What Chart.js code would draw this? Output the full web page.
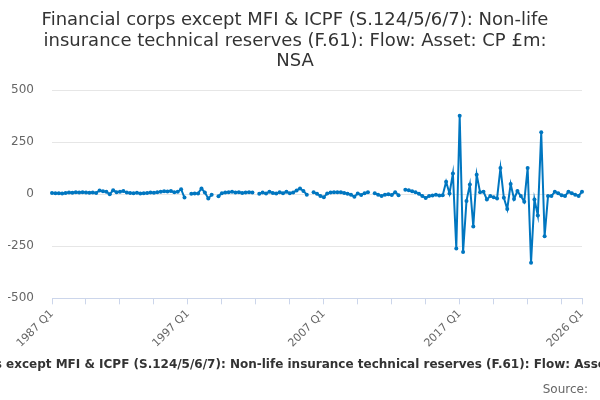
<!DOCTYPE html>
<html>
<head>
<meta charset="utf-8">
<script src="https://cdn.jsdelivr.net/npm/chart.js@4.4.1/dist/chart.umd.min.js"></script>
<style>
  html, body { margin: 0; padding: 0; background: #fff; }
  #wrap { width: 600px; height: 400px; position: relative; }
</style>
</head>
<body>
<div id="wrap"><canvas id="chart"></canvas></div>
<script>
// Titolo e testi
const titleLines = [
  'Financial corps except MFI & ICPF (S.124/5/6/7): Non-life',
  'insurance technical reserves (F.61): Flow: Asset: CP £m:',
  'NSA'
];
const seriesName = 'Financial corps except MFI & ICPF (S.124/5/6/7): Non-life insurance technical reserves (F.61): Flow: Asset: CP £m: NSA';
const sourceText = 'Source:';

// Categorie: trimestri dal 1987 Q1 al 2026 Q1
const firstYear = 1987;
const lastYear = 2026;
const quarters = [];
for (let y = firstYear; y <= lastYear; y++) {
  for (let q = 1; q <= 4; q++) {
    if (y === lastYear && q > 1) break;
    quarters.push(y + ' Q' + q);
  }
}

// Etichette mostrate sull'asse x
const shownLabels = ['1987 Q1', '1997 Q1', '2007 Q1', '2017 Q1', '2026 Q1'];

// Valori (£m), null = dato mancante
const values = [
  6, 5, 5, 4, 6, 8, 7, 9, 8, 10,
  8, 7, 8, 6, 18, 14, 12, 0, 19, 10,
  12, 15, 8, 6, 5, 7, 4, 5, 6, 8,
  7, 9, 12, 14, 13, 15, 10, 12, 24, -16,
  null, 2, 3, 4, 28, 8, -20, -3, null, -10,
  5, 8, 10, 12, 8, 10, 6, 8, 10, 8,
  null, 2, 8, 3, 12, 6, 3, 10, 5, 12,
  5, 8, 18, 28, 15, -2, null, 10, 2, -8,
  -14, 3, 8, 10, 9, 10, 6, 2, -2, -12,
  4, -4, 5, 10, null, 5, -3, -8, -2, 0,
  -4, 10, -5, null, 22, 19, 14, 10, 2, -8,
  -18, -8, -6, -3, -6, -5, 60, 4, 99, -261,
  377, -277, -32, 47, -155, 94, 9, 12, -25, -9,
  -15, -20, 126, -17, -71, 49, -23, 15, -9, -36,
  126, -329, -25, -102, 297, -202, -9, -9, 12, 5,
  -5, -9, 12, 5, -3, -8, 12
];

// Asse y
const yMin = -500;
const yMax = 500;
const yStep = 250;

const lineColor = '#0076c0';
const fontFamily = "'DejaVu Sans', sans-serif";

// Plugin per il nome della serie (tagliato ai bordi come nell'originale) e "Source:"
const footerPlugin = {
  id: 'footerText',
  afterDraw(chart) {
    const c = chart.ctx;
    c.save();
    c.fillStyle = '#333';
    c.font = 'bold 12px ' + fontFamily;
    c.textAlign = 'center';
    c.textBaseline = 'middle';
    c.fillText(seriesName, chart.width / 2, 365);
    c.font = '12px ' + fontFamily;
    c.fillStyle = '#666';
    c.textAlign = 'right';
    c.fillText(sourceText, 588, 390);
    c.restore();
  }
};

const ctx = document.getElementById('chart').getContext('2d');
new Chart(ctx, {
  type: 'line',
  data: {
    labels: quarters,
    datasets: [{
      label: seriesName,
      data: values,
      borderColor: lineColor,
      backgroundColor: lineColor,
      borderWidth: 2,
      pointRadius: 2,
      pointBorderWidth: 0,
      pointHoverRadius: 4,
      tension: 0,
      spanGaps: false
    }]
  },
  options: {
    responsive: true,
    maintainAspectRatio: false,
    animation: false,
    layout: { padding: { left: 8, right: 18, top: 6, bottom: 47 } },
    plugins: {
      legend: { display: false },
      tooltip: { enabled: false },
      title: {
        display: true,
        text: titleLines,
        color: '#333',
        font: { family: fontFamily, size: 18, weight: 'normal', lineHeight: 1.15 },
        padding: { top: 4, bottom: 18 }
      }
    },
    scales: {
      x: {
        ticks: {
          autoSkip: false,
          maxRotation: 45,
          minRotation: 45,
          color: '#666',
          font: { family: fontFamily, size: 11 },
          callback: function(value, index) {
            const lab = quarters[index];
            if (shownLabels.includes(lab)) return lab;
            if (index % 10 === 0) return '';
            return null;
          }
        },
        grid: {
          display: true,
          drawOnChartArea: false,
          drawTicks: true,
          tickLength: 6,
          color: '#ccd6eb'
        },
        border: { display: true, color: '#ccd6eb' },
        afterFit: function(scale) {
          // le etichette ruotate non devono spostare l'area del grafico
          scale.paddingLeft = 0;
          scale.paddingRight = 0;
        }
      },
      y: {
        min: yMin,
        max: yMax,
        ticks: {
          stepSize: yStep,
          color: '#666',
          padding: 18,
          font: { family: fontFamily, size: 12 }
        },
        grid: { color: '#e6e6e6', drawTicks: false },
        border: { display: false },
        afterFit: function(scale) {
          scale.width = 44;
        }
      }
    }
  },
  plugins: [footerPlugin]
});
</script>
</body>
</html>
